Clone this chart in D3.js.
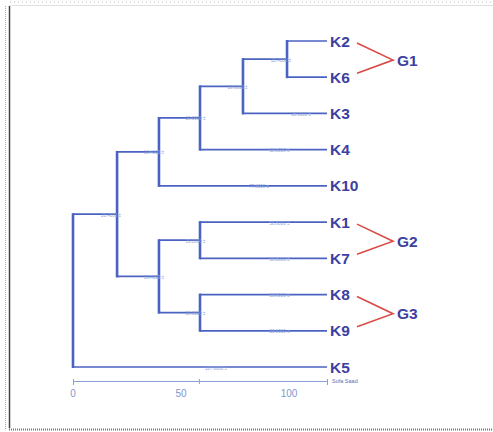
<!DOCTYPE html>
<html>
<head>
<meta charset="utf-8">
<script src="https://cdn.jsdelivr.net/npm/d3@7"></script>
<style>
  body { margin: 0; background: #fff; }
  svg { display: block; }
</style>
</head>
<body>
<div id="graf"></div>
<script>
// Datos
const leaves = ["K2", "K6", "K3", "K4", "K10", "K1", "K7", "K8", "K9", "K5"]
const leafDist = 117.6
// merges: [id, left, right, distancia desde la raiz]
const merges = [
  ["n1", "K2", "K6", 99.1],
  ["n2", "n1", "K3", 78.7],
  ["n3", "n2", "K4", 58.8],
  ["n4", "n3", "K10", 39.8],
  ["n5", "K1", "K7", 58.8],
  ["n6", "K8", "K9", 58.8],
  ["n7", "n5", "n6", 39.8],
  ["n8", "n4", "n7", 20.4],
  ["root", "n8", "K5", 0]
]
const groups = [
  ["G1", "K2", "K6"],
  ["G2", "K1", "K7"],
  ["G3", "K8", "K9"]
]
const tickMarks = [0, 58.3, 117.6]
const tickLabels = [0, 50, 100]
const axisTitle = "Sofa Saad"

const W = 493, H = 432
const svg = d3.select("#graf").append("svg").attr("width", W).attr("height", H)

// Marco de la captura
svg.append("line").attr("x1", 10).attr("x2", W).attr("y1", 2).attr("y2", 2)
  .attr("stroke", "#bbb").attr("stroke-dasharray", "1,3")
svg.append("line").attr("x1", 10).attr("x2", W).attr("y1", 5.5).attr("y2", 5.5)
  .attr("stroke", "#e2e2e2")
svg.append("line").attr("x1", 5.5).attr("x2", 5.5).attr("y1", 6).attr("y2", 430)
  .attr("stroke", "#aaa").attr("stroke-dasharray", "1,1")
svg.append("line").attr("x1", 9.5).attr("x2", 9.5).attr("y1", 6).attr("y2", 428)
  .attr("stroke", "#444").attr("stroke-width", 1.5)
svg.append("line").attr("x1", 9).attr("x2", W).attr("y1", 429.5).attr("y2", 429.5)
  .attr("stroke", "#777").attr("stroke-width", 2).attr("stroke-dasharray", "1,1")

// Escaladores
const x = d3.scaleLinear().domain([0, leafDist]).range([73, 327])
const y = d3.scalePoint().domain(leaves).range([41, 367])

// Nodos
const nodes = {}
leaves.forEach((k) => (nodes[k] = { id: k, d: leafDist, y: y(k) }))
merges.forEach(([id, a, b, d]) => {
  nodes[id] = { id, d, y: (nodes[a].y + nodes[b].y) / 2, kids: [a, b] }
})

const blue = "#4a63c2"
const tree = svg.append("g")
const branchTxt = svg.append("g")

merges.forEach(([id, a, b, d]) => {
  const ys = [nodes[a].y, nodes[b].y]
  tree.append("line")
    .attr("x1", x(d)).attr("x2", x(d))
    .attr("y1", d3.min(ys) - 1).attr("y2", d3.max(ys) + 1)
    .attr("stroke", blue).attr("stroke-width", 2.6)
  ;[a, b].forEach((k) => {
    const c = nodes[k]
    tree.append("line")
      .attr("x1", x(d)).attr("x2", x(c.d))
      .attr("y1", c.y).attr("y2", c.y)
      .attr("stroke", blue).attr("stroke-width", 1.7)
    const tx = (x(d) + x(c.d)) / 2 + 16
    if (tx > 310) return
    branchTxt.append("text")
      .attr("x", tx)
      .attr("y", c.y + 2.5)
      .attr("text-anchor", "middle")
      .attr("font-family", "Liberation Sans, Arial, sans-serif")
      .attr("font-size", 4.5)
      .attr("fill", "#8ea3dc")
      .text(d3.format(".4f")(c.d - d) + " ±")
  })
})

// Etiquetas de hojas
svg.append("g").selectAll("text").data(leaves).join("text")
  .attr("x", 330)
  .attr("y", (d) => y(d) + 5.5)
  .attr("font-family", "Liberation Sans, Arial, sans-serif")
  .attr("font-size", 15.5)
  .attr("font-weight", "bold")
  .attr("fill", "#3b40a2")
  .text((d) => d)

// Grupos
const red = "#d94b45"
const gg = svg.append("g")
groups.forEach(([g, a, b]) => {
  const ya = y(a), yb = y(b)
  const ym = (ya + yb) / 2 + 1
  gg.append("path")
    .attr("d", d3.line()([[357, ya + 2], [393, ym], [357, yb - 4]]))
    .attr("fill", "none").attr("stroke", red).attr("stroke-width", 1.6)
  gg.append("text")
    .attr("x", 397).attr("y", ym + 5.5)
    .attr("font-family", "Liberation Sans, Arial, sans-serif")
    .attr("font-size", 15.5)
    .attr("font-weight", "bold")
    .attr("fill", "#3b40a2")
    .text(g)
})

// Eje
const axisColor = "#8aa2d8"
const ax = svg.append("g").attr("transform", "translate(0, 381)")
  .call(d3.axisBottom(x).tickValues(tickMarks).tickFormat("").tickSizeOuter(0).tickSize(4))
ax.select(".domain").attr("stroke", axisColor)
ax.selectAll(".tick line").attr("stroke", axisColor).attr("y1", -2).attr("y2", 3)

const lab = d3.scaleLinear().domain([0, 100]).range([73, 289])
svg.append("g").selectAll("text").data(tickLabels).join("text")
  .attr("x", (d) => lab(d))
  .attr("y", 397)
  .attr("text-anchor", "middle")
  .attr("font-family", "Liberation Sans, Arial, sans-serif")
  .attr("font-size", 10)
  .attr("fill", "#7d97cf")
  .text((d) => d)

svg.append("text")
  .attr("x", 332).attr("y", 383)
  .attr("font-family", "Liberation Sans, Arial, sans-serif")
  .attr("font-size", 5.5)
  .attr("fill", "#5a6ab8")
  .text(axisTitle)
</script>
</body>
</html>
